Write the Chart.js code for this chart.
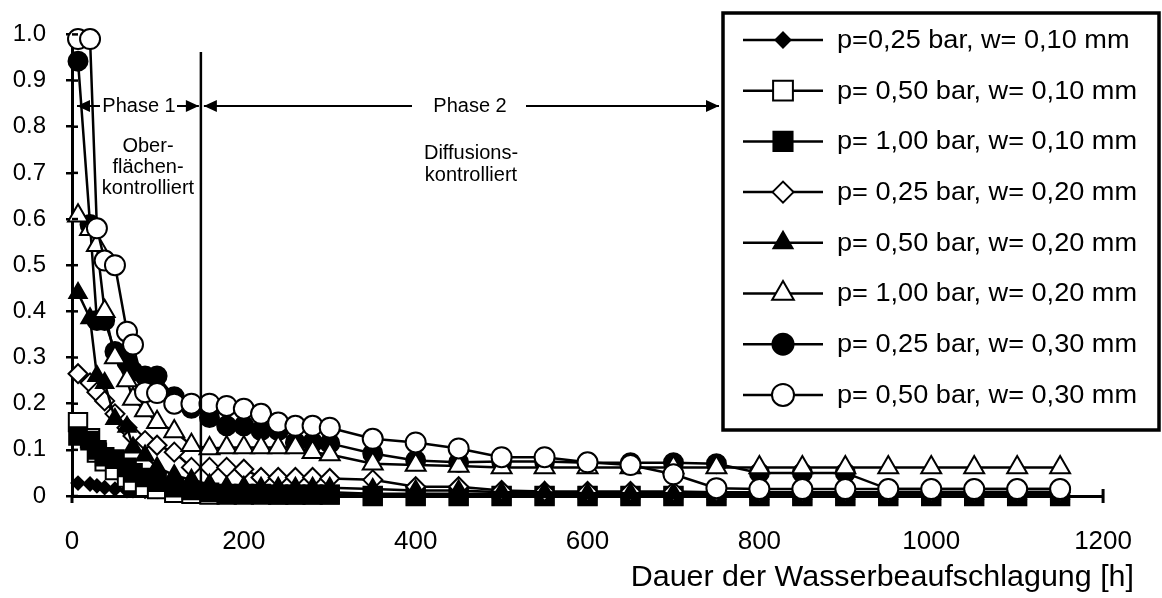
<!DOCTYPE html>
<html>
<head>
<meta charset="utf-8">
<script src="https://cdn.jsdelivr.net/npm/chart.js@4.4.1/dist/chart.umd.min.js"></script>
<style>
  html, body { margin: 0; padding: 0; background: #fff; }
  #wrap { width: 1162px; height: 598px; }
</style>
</head>
<body>
<div id="wrap"><canvas id="chart" width="1162" height="598"></canvas></div>
<script>
// measurement times [h]
const HOURS = [7, 21, 29, 38, 50, 64, 71, 85, 99, 119, 139,
  160, 180, 200, 220, 240, 260, 280, 300,
  350, 400, 450, 500, 550, 600, 650, 700, 750, 800, 850, 900, 950, 1000, 1050, 1100, 1150];

// p=0,25 bar, w=0,10 mm
const P025_W010 = [0.028, 0.026, 0.022, 0.018, 0.015, 0.012, 0.012, 0.010, 0.010, 0.015, 0.012,
  0.010, 0.010, 0.008, 0.008, 0.008, 0.008, 0.008, 0.008,
  0.005, 0.005, 0.005, 0.005, 0.005, 0.005, 0.005, 0.005, 0.005, 0.005, 0.005, 0.005, 0.005, 0.005, 0.005, 0.005, 0.005];
// p=0,50 bar, w=0,10 mm
const P050_W010 = [0.160, 0.125, 0.094, 0.075, 0.056, 0.040, 0.030, 0.020, 0.015, 0.007, 0.005,
  0.003, 0.003, 0.003, 0.003, 0.003, 0.003, 0.003, 0.003,
  0, 0, 0, 0, 0, 0, 0, 0, 0, 0, 0, 0, 0, 0, 0, 0, 0];
// p=1,00 bar, w=0,10 mm
const P100_W010 = [0.130, 0.120, 0.100, 0.085, 0.080, 0.062, 0.050, 0.040, 0.030, 0.018, 0.012,
  0.008, 0.005, 0.005, 0.005, 0.003, 0.003, 0.003, 0.003,
  0, 0, 0, 0, 0, 0, 0, 0, 0, 0, 0, 0, 0, 0, 0, 0, 0];
// p=0,25 bar, w=0,20 mm
const P025_W020 = [0.265, 0.245, 0.225, 0.206, 0.178, 0.148, 0.130, 0.120, 0.110, 0.095, 0.062,
  0.062, 0.062, 0.058, 0.040, 0.040, 0.040, 0.040, 0.038,
  0.035, 0.020, 0.020, 0.012, 0.010, 0.010, 0.010, 0.010, 0.008, 0.008, 0.008, 0.008, 0.008, 0.008, 0.008, 0.008, 0.008];
// p=0,50 bar, w=0,20 mm
const P050_W020 = [0.440, 0.385, 0.260, 0.245, 0.167, 0.150, 0.105, 0.088, 0.062, 0.045, 0.035,
  0.025, 0.020, 0.020, 0.018, 0.018, 0.018, 0.018, 0.018,
  0.015, 0.012, 0.012, 0.008, 0.008, 0.006, 0.006, 0.006, 0.005, 0.005, 0.005, 0.005, 0.005, 0.005, 0.005, 0.005, 0.005];
// p=1,00 bar, w=0,20 mm
const P100_W020 = [0.607, 0.578, 0.543, 0.400, 0.300, 0.250, 0.210, 0.185, 0.160, 0.140, 0.110,
  0.103, 0.105, 0.105, 0.105, 0.105, 0.105, 0.095, 0.090,
  0.070, 0.067, 0.065, 0.062, 0.062, 0.062, 0.062, 0.062, 0.062, 0.062, 0.062, 0.062, 0.062, 0.062, 0.062, 0.062, 0.062];
// p=0,25 bar, w=0,30 mm
const P025_W030 = [0.942, 0.588, 0.380, 0.380, 0.313, 0.290, 0.270, 0.260, 0.260, 0.215, 0.190,
  0.170, 0.152, 0.152, 0.142, 0.142, 0.116, 0.116, 0.114,
  0.092, 0.077, 0.073, 0.075, 0.075, 0.072, 0.072, 0.072, 0.070, 0.050, 0.050, 0.050, 0.015, 0.015, 0.015, 0.015, 0.015];
// p=0,50 bar, w=0,30 mm
const P050_W030 = [0.990, 0.990, 0.580, 0.510, 0.500, 0.356, 0.328, 0.225, 0.223, 0.200, 0.200,
  0.200, 0.195, 0.189, 0.178, 0.159, 0.152, 0.152, 0.148,
  0.124, 0.116, 0.103, 0.084, 0.084, 0.073, 0.067, 0.047, 0.017, 0.015, 0.015, 0.015, 0.015, 0.015, 0.015, 0.015, 0.015];

const LABELS = ["p=0,25 bar, w= 0,10 mm", "p= 0,50 bar, w= 0,10 mm", "p= 1,00 bar, w= 0,10 mm",
  "p= 0,25 bar, w= 0,20 mm", "p= 0,50 bar, w= 0,20 mm", "p= 1,00 bar, w= 0,20 mm",
  "p= 0,25 bar, w= 0,30 mm", "p= 0,50 bar, w= 0,30 mm"];
const SERIES = [P025_W010, P050_W010, P100_W010, P025_W020, P050_W020, P100_W020, P025_W030, P050_W030];

const X_TICKS = [0, 200, 400, 600, 800, 1000, 1200];
const Y_TICKS = [0, 0.1, 0.2, 0.3, 0.4, 0.5, 0.6, 0.7, 0.8, 0.9, 1.0];
const PHASE_BOUNDARY = 150;
const X_TITLE = "Dauer der Wasserbeaufschlagung [h]";

// marker look per series: [style, radius, filled]; stacking: lower order = on top
const MARKERS = [
  ["rectRot", 6.5, true], ["rect", 13, false], ["rect", 12.5, true], ["rectRot", 9.5, false],
  ["triangle", 10, true], ["triangle", 11.5, false], ["circle", 9.5, true], ["circle", 10, false]
];
const STACK = [8, 7, 6, 5, 4, 2, 3, 1];

const FONT = '"Liberation Sans", Arial, sans-serif';
Chart.defaults.font.family = FONT;
Chart.defaults.color = "#000";

const datasets = SERIES.map((vals, i) => ({
  label: LABELS[i],
  data: HOURS.map((h, j) => ({ x: h, y: vals[j] })),
  borderColor: "#000",
  borderWidth: 2.5,
  pointStyle: MARKERS[i][0],
  pointRadius: MARKERS[i][1],
  pointBackgroundColor: MARKERS[i][2] ? "#000" : "#fff",
  pointBorderColor: "#000",
  pointBorderWidth: 2,
  tension: 0,
  clip: false,
  order: STACK[i]
}));

function arrowHead(ctx, x, y, dir){
  ctx.beginPath();
  ctx.moveTo(x, y);
  ctx.lineTo(x - dir*13, y - 6);
  ctx.lineTo(x - dir*13, y + 6);
  ctx.closePath();
  ctx.fill();
}

function wideText(ctx, txt, x, y, sx){
  ctx.save();
  ctx.translate(x, y);
  ctx.scale(sx, 1);
  ctx.fillText(txt, 0, 0);
  ctx.restore();
}

const extras = {
  id: "extras",
  afterDraw(chart){
    const { ctx, scales: { x, y } } = chart;
    ctx.save();
    ctx.strokeStyle = "#000";
    ctx.fillStyle = "#000";

    // inner halves of y ticks, axis ends
    ctx.lineWidth = 2.5;
    Y_TICKS.forEach(v => {
      const py = y.getPixelForValue(v);
      ctx.beginPath(); ctx.moveTo(x.left, py); ctx.lineTo(x.left + 6, py); ctx.stroke();
    });
    ctx.lineWidth = 3;
    const xe = x.getPixelForValue(1200);
    ctx.beginPath(); ctx.moveTo(xe, y.bottom - 7); ctx.lineTo(xe, y.bottom + 7); ctx.stroke();
    ctx.beginPath(); ctx.moveTo(x.left, y.bottom); ctx.lineTo(x.left, y.bottom + 7); ctx.stroke();

    // phase divider
    const xd = x.getPixelForValue(PHASE_BOUNDARY);
    ctx.lineWidth = 2.5;
    ctx.beginPath(); ctx.moveTo(xd, 52); ctx.lineTo(xd, y.bottom); ctx.stroke();

    // phase arrows
    const ay = 106;
    ctx.lineWidth = 2;
    ctx.beginPath(); ctx.moveTo(x.left + 5, ay); ctx.lineTo(100, ay); ctx.stroke();
    ctx.beginPath(); ctx.moveTo(177, ay); ctx.lineTo(xd - 2, ay); ctx.stroke();
    arrowHead(ctx, x.left + 5, ay, -1);
    arrowHead(ctx, xd - 2, ay, 1);
    ctx.beginPath(); ctx.moveTo(xd + 3, ay); ctx.lineTo(412, ay); ctx.stroke();
    ctx.beginPath(); ctx.moveTo(526, ay); ctx.lineTo(719, ay); ctx.stroke();
    arrowHead(ctx, xd + 3, ay, -1);
    arrowHead(ctx, 719, ay, 1);

    ctx.font = "20px " + FONT;
    ctx.textAlign = "center";
    ctx.textBaseline = "middle";
    ctx.fillText("Phase 1", 139, ay);
    ctx.fillText("Phase 2", 470, ay);
    ctx.fillText("Ober-", 148, 146);
    ctx.fillText("flächen-", 148, 167);
    ctx.fillText("kontrolliert", 148, 188);
    ctx.fillText("Diffusions-", 471, 153);
    ctx.fillText("kontrolliert", 471, 175);

    // axis title
    ctx.font = "29px " + FONT;
    ctx.textAlign = "right";
    wideText(ctx, X_TITLE, 1134, 578, 1.05);

    // legend
    const lx = 723, ly = 13, lw = 436, lh = 417;
    ctx.fillStyle = "#fff";
    ctx.fillRect(lx, ly, lw, lh);
    ctx.lineWidth = 3.5;
    ctx.strokeRect(lx, ly, lw, lh);
    ctx.font = "25px " + FONT;
    ctx.textAlign = "left";
    chart.data.datasets.forEach((ds, i) => {
      const ey = 40 + i * 50.7;
      ctx.strokeStyle = "#000";
      ctx.lineWidth = 2.5;
      ctx.beginPath(); ctx.moveTo(743, ey); ctx.lineTo(823, ey); ctx.stroke();
      ctx.fillStyle = ds.pointBackgroundColor;
      ctx.lineWidth = 2;
      Chart.helpers.drawPoint(ctx, {
        pointStyle: ds.pointStyle, radius: ds.pointRadius + 1, rotation: 0, borderWidth: 2
      }, 783, ey);
      ctx.fillStyle = "#000";
      wideText(ctx, ds.label, 837, ey + 1, 1.085);
    });
    ctx.restore();
  }
};

new Chart(document.getElementById("chart"), {
  type: "line",
  data: { datasets },
  options: {
    responsive: false,
    animation: false,
    layout: { padding: { top: 28, right: 55, left: 0, bottom: 0 } },
    plugins: { legend: { display: false }, tooltip: { enabled: false } },
    scales: {
      x: {
        type: "linear", min: 0, max: 1200,
        afterBuildTicks: s => { s.ticks = X_TICKS.map(v => ({ value: v })); },
        afterFit: s => { s.height = 102; },
        ticks: { font: { size: 26 }, padding: 30, maxRotation: 0, callback: v => String(v) },
        grid: { display: false, drawTicks: false },
        border: { color: "#000", width: 3 }
      },
      y: {
        type: "linear", min: 0, max: 1,
        afterBuildTicks: s => { s.ticks = Y_TICKS.map(v => ({ value: v })); },
        afterFit: s => { s.width = 72; },
        ticks: { font: { size: 24 }, padding: 20, callback: v => v === 0 ? "0" : v.toFixed(1) },
        grid: { display: true, drawOnChartArea: false, drawTicks: true, tickLength: 6, color: "#000", lineWidth: 2.5 },
        border: { color: "#000", width: 3 }
      }
    }
  },
  plugins: [extras]
});
</script>
</body>
</html>
